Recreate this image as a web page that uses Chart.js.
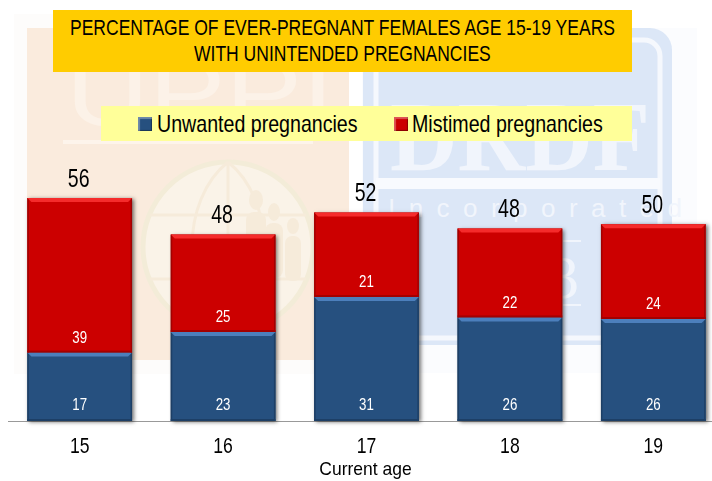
<!DOCTYPE html>
<html>
<head>
<meta charset="utf-8">
<script src="https://cdn.jsdelivr.net/npm/chart.js@4"></script>
<style>
  html, body { margin: 0; padding: 0; background: #fff; overflow: hidden; width: 712px; height: 481px; }
  #wm { position: absolute; left: 0; top: 0; }
  #wrap { position: absolute; left: 8px; top: 0; width: 717px; height: 481px; }
  .box { position: absolute; font-family: "Liberation Sans", sans-serif; color: #000; }
  #title { left: 53px; top: 10px; width: 579px; height: 62px; background: #ffcc00; font-size: 22px; }
  #legend { left: 101px; top: 106px; width: 531px; height: 35px; background: #ffff99; font-size: 24px; }
  .line { position: absolute; white-space: nowrap; transform-origin: 0 50%; }
  .swatch { position: absolute; top: 11px; width: 14px; height: 14px; }
</style>
</head>
<body>
<svg id="wm" width="712" height="481">
  <rect x="14" y="14" width="335" height="360" fill="#fdfcfb"/>
  <rect x="27" y="28" width="322" height="332" fill="#faebdd"/>
  <rect x="362" y="28" width="335" height="345" fill="#fbfcfe"/>
  <rect x="363" y="28" width="309" height="317" rx="22" fill="#dce7f7"/>
  <rect x="376" y="40" width="284" height="298" rx="16" fill="none" stroke="#f5f8fd" stroke-width="5"/>
  <text x="66" y="125" font-family="Liberation Sans" font-size="92" fill="#fcf2e8" textLength="268" lengthAdjust="spacingAndGlyphs">UPPI</text>
  <rect x="63" y="140" width="250" height="4" fill="#fdf4eb"/>
  <circle cx="228" cy="247" r="85" fill="#faf3e8" stroke="#f3ecd8" stroke-width="5"/>
  <path d="M228 162 V332 M150 215 H306 M150 279 H306 M228 162 C180 200 180 294 228 332 M228 162 C276 200 276 294 228 332" fill="none" stroke="#f6ebda" stroke-width="3"/>
  <g fill="#f6ebda">
    <ellipse cx="256" cy="200" rx="7" ry="10"/><rect x="246" y="212" width="20" height="60" rx="8"/>
    <ellipse cx="274" cy="212" rx="6" ry="9"/><rect x="265" y="223" width="18" height="55" rx="8"/>
    <ellipse cx="293" cy="226" rx="6" ry="8"/><rect x="285" y="236" width="16" height="45" rx="7"/>
  </g>
  <text x="390" y="170" font-family="Liberation Serif" font-weight="bold" font-size="100" fill="#f1f5fc" textLength="260" lengthAdjust="spacingAndGlyphs">DRDF</text>
  <rect x="376" y="178" width="284" height="11" fill="#f8fafe"/>
  <text x="388" y="217" font-family="Liberation Sans" font-size="26" fill="#f1f5fc" textLength="294">Incorporated</text>
  <rect x="563" y="240" width="18" height="2" fill="#f1f5fc"/>
  <rect x="563" y="304" width="18" height="2" fill="#f1f5fc"/>
  <text x="548" y="298" font-family="Liberation Serif" font-size="62" fill="#f1f5fc">3</text>
</svg>
<div id="wrap"><canvas id="chart"></canvas></div>
<div id="title" class="box"></div>
<div id="legend" class="box"></div>
<script>
const ages = ['15', '16', '17', '18', '19'];
// bar heights, the printed labels do not add up exactly
const unwanted = [17.1, 22.25, 31, 25.9, 25.5];
const mistimed = [38.65, 24.35, 21.1, 22.2, 23.7];
const unwantedLabels = [17, 23, 31, 26, 26];
const mistimedLabels = [39, 25, 21, 22, 24];
const totalLabels = [56, 48, 52, 48, 50];
const xTitle = 'Current age';
const seriesNames = ['Unwanted pregnancies', 'Mistimed pregnancies'];
const titleLines = ['PERCENTAGE OF EVER-PREGNANT FEMALES AGE 15-19 YEARS', 'WITH UNINTENDED PREGNANCIES'];

const BLUE = '#26507f';
const RED = '#cc0000';

// the source font is squeezed sideways, so every text gets a horizontal scale
function addLine(parent, text, left, mid, sx) {
  const s = document.createElement('span');
  s.className = 'line';
  s.textContent = text;
  s.style.left = left + 'px';
  s.style.lineHeight = '30px';
  s.style.top = (mid - 15) + 'px';
  s.style.transform = 'scaleX(' + sx + ')';
  parent.appendChild(s);
  return s;
}

const titleEl = document.getElementById('title');
addLine(titleEl, titleLines[0], 17, 18, 0.796);
addLine(titleEl, titleLines[1], 141, 44, 0.796);

const legendEl = document.getElementById('legend');
[[seriesNames[0], BLUE, 37, 56], [seriesNames[1], RED, 293, 311]].forEach(([name, col, sx, tx]) => {
  const s = document.createElement('span');
  s.className = 'swatch';
  s.style.left = sx + 'px';
  s.style.background = col;
  s.style.boxShadow = 'inset 2px 2px 1px #ffffff55, inset -1px -1px 1px #00000055';
  legendEl.appendChild(s);
  addLine(legendEl, name, tx, 18, 0.817);
});

function narrowText(ctx, text, x, y, sx) {
  ctx.save();
  ctx.translate(x, y);
  ctx.scale(sx, 1);
  ctx.fillText(text, 0, 0);
  ctx.restore();
}

// soft shadow behind the columns
const shadow = {
  id: 'shadow',
  beforeDatasetsDraw(chart) {
    const ctx = chart.ctx;
    chart.getDatasetMeta(1).data.forEach((bar) => {
      ctx.save();
      ctx.shadowColor = 'rgba(0,0,0,0.55)';
      ctx.shadowBlur = 4;
      ctx.shadowOffsetX = 2;
      ctx.shadowOffsetY = 1;
      ctx.fillStyle = '#888';
      ctx.fillRect(bar.x - bar.width / 2, bar.y, bar.width, chart.scales.y.getPixelForValue(0) - bar.y);
      ctx.restore();
    });
  }
};

// bevel look of the bars, value labels and the category labels
const bevel = {
  id: 'bevel',
  afterDatasetsDraw(chart) {
    const ctx = chart.ctx;
    const xs = chart.scales.x;
    const base = chart.scales.y.getPixelForValue(0);
    const styles = [
      { top: '#4c7fbc', side: '#1d3f66' },
      { top: '#f52b2b', side: '#a30000' }
    ];
    chart.data.datasets.forEach((ds, d) => {
      chart.getDatasetMeta(d).data.forEach((bar) => {
        const st = styles[d];
        const l = bar.x - bar.width / 2, r = bar.x + bar.width / 2;
        const t = bar.y, b = bar.base;
        const e = 4, s = 1.5;
        ctx.save();
        ctx.fillStyle = st.side;
        ctx.fillRect(l, t, s, b - t);
        ctx.fillRect(r - s, t, s, b - t);
        ctx.fillRect(l, b - 2, r - l, 2);
        ctx.fillStyle = st.top;
        ctx.beginPath();
        ctx.moveTo(l, t);
        ctx.lineTo(r, t);
        ctx.lineTo(r - e, t + e);
        ctx.lineTo(l + e, t + e);
        ctx.fill();
        ctx.restore();
      });
    });

    const m0 = chart.getDatasetMeta(0).data, m1 = chart.getDatasetMeta(1).data;
    ctx.save();
    ctx.textAlign = 'center';
    ctx.textBaseline = 'middle';
    ctx.fillStyle = '#fff';
    ctx.font = '16px "Liberation Sans"';
    ages.forEach((a, i) => {
      narrowText(ctx, unwantedLabels[i], m0[i].x, base - 15, 0.83);
      narrowText(ctx, mistimedLabels[i], m1[i].x, m0[i].y - 14, 0.83);
    });
    ctx.fillStyle = '#000';
    ctx.font = '25px "Liberation Sans"';
    ages.forEach((a, i) => narrowText(ctx, totalLabels[i], m1[i].x - 1, m1[i].y - 18, 0.78));
    ctx.font = '22px "Liberation Sans"';
    ages.forEach((a, i) => narrowText(ctx, a, xs.getPixelForValue(i), base + 26, 0.8));
    ctx.font = '19px "Liberation Sans"';
    narrowText(ctx, xTitle, (xs.left + xs.right) / 2 - 1, base + 49, 0.92);
    ctx.restore();
  }
};

new Chart(document.getElementById('chart'), {
  type: 'bar',
  data: {
    labels: ages,
    datasets: [
      { label: seriesNames[0], data: unwanted, backgroundColor: BLUE },
      { label: seriesNames[1], data: mistimed, backgroundColor: RED }
    ]
  },
  options: {
    responsive: true,
    maintainAspectRatio: false,
    animation: false,
    datasets: { bar: { barPercentage: 0.73, categoryPercentage: 1 } },
    layout: { padding: { top: 141, left: 0, right: 0, bottom: 60 } },
    plugins: { legend: { display: false }, title: { display: false }, tooltip: { enabled: false } },
    scales: {
      x: {
        stacked: true,
        grid: { display: false, drawTicks: false },
        border: { color: '#999999' },
        ticks: { display: false }
      },
      y: {
        stacked: true,
        min: 0,
        max: 70,
        display: false
      }
    }
  },
  plugins: [shadow, bevel]
});
</script>
</body>
</html>
